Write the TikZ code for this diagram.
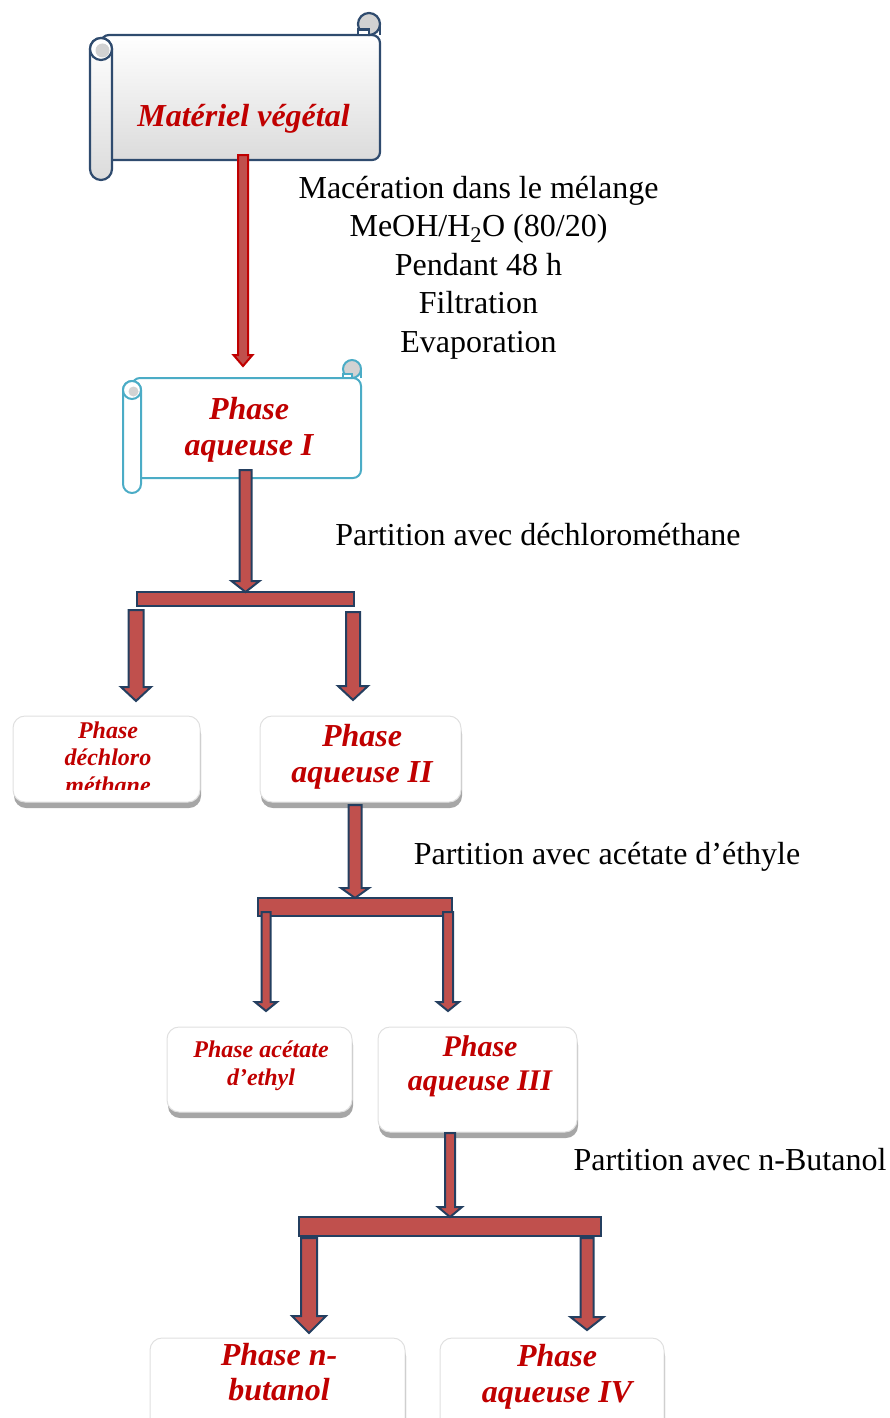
\documentclass[tikz,border=0pt]{standalone}
\usepackage{fontspec}
\setmainfont{Liberation Serif}
\usetikzlibrary{calc,shadows}

\definecolor{darkred}{HTML}{C00000}
\definecolor{arrowred}{HTML}{C0504D}
\definecolor{edgenavy}{HTML}{243F60}
\definecolor{scrollnavy}{HTML}{2F4B6E}
\definecolor{scrollblue}{HTML}{4BACC6}

% scroll: line style, fill, left, right, top, bottom, roll bottom, roll width
\newcommand\scroll[8]{%
  \draw[#1,#2,rounded corners=8] (#3+#8/2,#5) -- (#4,#5) -- (#4,#6) -- (#3+#8/2,#6) -- cycle;
  \draw[#1] (#4,#5) -- (#4,#5-#8/2);
  \draw[#1,fill=gray!35] (#4-#8/2,#5-#8/2) circle[radius=#8/2];
  \draw[#1,fill=white] (#4-#8,#5-#8/4) rectangle (#4-#8/2,#5);
  \draw[#1,#2,rounded corners=#8/2] (#3,#5+3) rectangle (#3+#8,#7);
  \draw[#1,fill=white] (#3+#8/2,#5+3+#8/2) circle[radius=#8/2];
  \fill[gray!35] (#3+#8/2+1.5,#5+3+#8/2+1.5) circle[radius=#8/2-4];
}

% block arrow going down: from, to, half shaft, half head, head length
\newcommand\blockarr[6][]{%
  \draw[blockarrow,#1] let \p1=(#2), \p2=(#3) in
    (\x2-#4,\y1) -- (\x2-#4,\y2+#6) -- (\x2-#5,\y2+#6) -- (\x2,\y2)
    -- (\x2+#5,\y2+#6) -- (\x2+#4,\y2+#6) -- (\x2+#4,\y1) -- cycle;
}

\begin{document}
\begin{tikzpicture}[
  x=1pt, y=-1pt,
  blockarrow/.style={fill=arrowred, draw=edgenavy, line width=2, line join=miter},
  firstarrow/.style={draw=darkred},
  splitbar/.style={fill=arrowred, draw=edgenavy, line width=2, inner sep=0, outer sep=0},
  phasebox/.style={draw=black!12, line width=1, fill=white, rounded corners=12,
    inner sep=0, drop shadow={shadow xshift=1pt, shadow yshift=-6pt, fill=black!35, opacity=1}},
  phasetxt/.style={text=darkred, align=center, inner sep=0,
    font=\bfseries\itshape\fontsize{32}{36}\selectfont},
  steptxt/.style={align=center, inner sep=0, font=\fontsize{32}{38.5}\selectfont},
]
\useasboundingbox (0,0) rectangle (890,1418);

% scrolls
\scroll{draw=scrollnavy, line width=2.2}{top color=white, bottom color=gray!28}{90}{380}{35}{160}{180}{22}
\scroll{draw=scrollblue, line width=2}{fill=white}{123}{361}{378}{478}{493}{18}

\node[phasetxt, anchor=base] (mat) at (243.5,127) {Matériel végétal};
\node[steptxt] (mac) at (478.5,267.5) {Macération dans le mélange\\MeOH/H\textsubscript{2}O (80/20)\\Pendant 48 h\\Filtration\\Evaporation};
\node[phasetxt] (phI) at (249,430) {Phase\\aqueuse I};

% boxes
\node[phasebox, minimum width=187, minimum height=86] (dchbox) at (106.5,759) {};
\node[phasebox, minimum width=201, minimum height=86] (phIIbox) at (360.5,759) {};
\node[phasebox, minimum width=185, minimum height=85] (acebox) at (259.5,1069.5) {};
\node[phasebox, minimum width=199, minimum height=105] (phIIIbox) at (477.5,1079.5) {};
\node[phasebox, minimum width=255, minimum height=104] (bubox) at (277.5,1390) {};
\node[phasebox, minimum width=224, minimum height=104] (phIVbox) at (552,1390) {};

\begin{scope}
  \clip (13,716) rectangle (200,789);
  \node[phasetxt, font=\bfseries\itshape\fontsize{24}{27.5}\selectfont] (dch) at (108,757.3) {Phase\\déchloro\\méthane};
\end{scope}
\node[phasetxt] (phII) at (362,756.5) {Phase\\aqueuse II};
\node[phasetxt, font=\bfseries\itshape\fontsize{24}{28}\selectfont] (ace) at (261,1065.5) {Phase acétate\\d’ethyl};
\node[phasetxt, font=\bfseries\itshape\fontsize{30}{34}\selectfont] (phIII) at (480,1066) {Phase\\aqueuse III};
\node[phasetxt, font=\bfseries\itshape\fontsize{32}{35}\selectfont] (bu) at (279,1372.5) {Phase n-\\butanol};
\node[phasetxt] (phIV) at (557,1376.5) {Phase\\aqueuse IV};

% partition steps
\node[steptxt, anchor=base] (lab1) at (538,545) {Partition avec déchlorométhane};
\node[steptxt, anchor=base] (lab2) at (607,864) {Partition avec acétate d’éthyle};
\node[steptxt, anchor=base] (lab3) at (730,1170) {Partition avec n-Butanol};

% bars
\node[splitbar, minimum width=217, minimum height=14] (bar1) at (245.5,599) {};
\node[splitbar, minimum width=194, minimum height=18] (bar2) at (355,907) {};
\node[splitbar, minimum width=302, minimum height=19] (bar3) at (450,1226.5) {};

% arrow ends
\coordinate (matout) at (243,155);
\coordinate (phIin) at (243,366);
\coordinate (phIout) at (245,470);
\coordinate (bar1l) at (136,610);
\coordinate (dchin) at (136,701);
\coordinate (bar1r) at (353,612);
\coordinate (phIIin) at (353,700);
\coordinate (phIIout) at (355,805);
\coordinate (bar2l) at (266,912);
\coordinate (acein) at (266,1011);
\coordinate (bar2r) at (448,912);
\coordinate (phIIIin) at (448,1011);
\coordinate (phIIIout) at (450,1133);
\coordinate (bar3l) at (309,1238);
\coordinate (buin) at (309,1333);
\coordinate (bar3r) at (587,1238);
\coordinate (phIVin) at (587,1330);

\blockarr[firstarrow]{matout}{phIin}{5pt}{9.5pt}{11pt}
\blockarr{phIout}{bar1.north}{6pt}{14pt}{11pt}
\blockarr{bar1l}{dchin}{7.5pt}{15pt}{14pt}
\blockarr{bar1r}{phIIin}{7pt}{15pt}{14pt}
\blockarr{phIIout}{bar2.north}{6.5pt}{14pt}{10pt}
\blockarr{bar2l}{acein}{4.5pt}{11pt}{9pt}
\blockarr{bar2r}{phIIIin}{5pt}{11pt}{9pt}
\blockarr{phIIIout}{bar3.north}{5pt}{12pt}{10pt}
\blockarr{bar3l}{buin}{8pt}{17pt}{17pt}
\blockarr{bar3r}{phIVin}{6.5pt}{16.5pt}{13pt}
\end{tikzpicture}
\end{document}
